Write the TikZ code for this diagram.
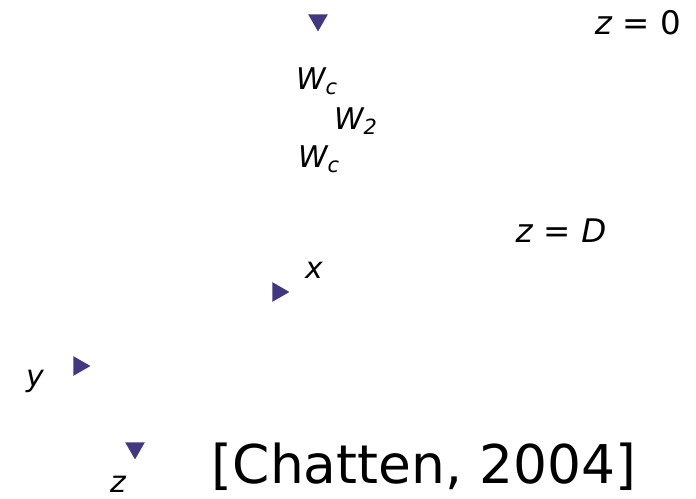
\documentclass[tikz,border=0pt]{standalone}
\usepackage{fontspec}
\setmainfont{DejaVu Sans}
\usetikzlibrary{shapes.geometric}
\definecolor{tricol}{RGB}{64,56,128}
\tikzset{
  tri/.style={regular polygon, regular polygon sides=3, fill=tricol,
    draw=none, inner sep=0pt, minimum size=13},
  lbl/.style={inner sep=0pt, font=\fontsize{17}{19}\selectfont\itshape},
}
\begin{document}
\begin{tikzpicture}[x=0.02cm, y=-0.02cm]
  \useasboundingbox (0,0) rectangle (696,499);
  % triangles
  \node[tri, rotate=180] (t1) at (318,20) {};
  \node[tri, rotate=-90] (t2) at (278,292) {};
  \node[tri, rotate=-90] (t3) at (79,366) {};
  \node[tri, rotate=180] (t4) at (135,448) {};
  % layer labels
  \node[lbl] (wc1) at (317,81) {W\textsubscript{c}};
  \node[lbl] (w2) at (356,121) {W\textsubscript{2}};
  \node[lbl] (wc2) at (319,159) {W\textsubscript{c}};
  \node[inner sep=0pt, font=\fontsize{18.5}{20}\selectfont] (z0) at (638,23) {\textit{z} = 0};
  \node[inner sep=0pt, font=\fontsize{18.5}{20}\selectfont] (zD) at (561,231) {\textit{z} = \textit{D}};
  % axes
  \node[lbl] (x) at (314,270) {x};
  \node[lbl] (y) at (35,381) {y};
  \node[lbl] (z) at (118,484) {z};
  \node[inner sep=0pt, font=\fontsize{30.4}{33}\selectfont] (ref) at (424,467) {[Chatten, 2004]};
\end{tikzpicture}
\end{document}
